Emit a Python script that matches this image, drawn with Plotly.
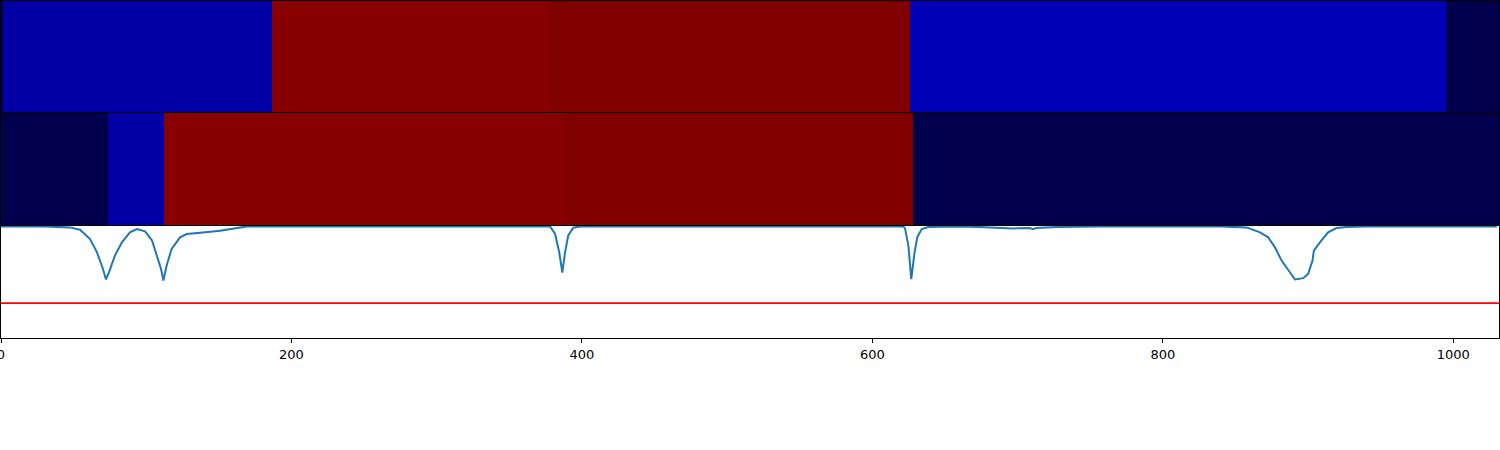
import plotly.graph_objects as go
from plotly.subplots import make_subplots

# ---- data ----
# top strip: segment edges and values
row1_edges = [0, 1.6, 186.3, 376.8, 625.6, 995.0, 1031.5]
row1_values = [-1.0, -0.75, 0.97, 1.0, -0.70, -1.0]

# middle strip
row2_edges = [0, 73.5, 112.2, 387.7, 628.0, 1031.5]
row2_values = [-1.0, -0.75, 0.97, 1.0, -1.0]

# bottom: signal trace
signal_x = [0, 30, 47.5, 54.4, 61.3, 66.1, 70.2, 72.3, 74.4, 78.5,
            83.3, 88.8, 93.6, 99.2, 104.0, 107.4, 110.2, 111.8, 114.1, 117.5,
            123.3, 127.9, 134.8, 139.1, 150.8, 164.6, 169.4, 250,
            378.0, 381.5, 384.4, 386.5, 388.4, 390.6, 394.1, 398.7, 500,
            621.3, 622.5, 624.8, 626.8, 628.9, 630.9, 634.0, 638.5,
            660.3, 677.5, 696.8, 708.5, 710.6, 712.7, 727.1, 756.7,
            839.4, 857.7, 866.9, 872.6, 877.2, 881.8, 886.4, 891.0, 896.7, 900.1,
            903.1, 904.0, 908.2, 913.8, 919.6, 926.5, 940.4, 1030]
signal_y = [1.0, 1.0, 0.987, 0.957, 0.835, 0.662, 0.445, 0.308, 0.403, 0.623,
            0.792, 0.922, 0.965, 0.935, 0.818, 0.623, 0.445, 0.295, 0.494, 0.705,
            0.857, 0.9, 0.909, 0.922, 0.944, 0.987, 1.0, 1.0,
            1.0, 0.904, 0.662, 0.399, 0.662, 0.883, 0.983, 1.0, 1.0,
            1.0, 0.974, 0.753, 0.312, 0.636, 0.857, 0.965, 0.991,
            1.0, 0.99, 0.974, 0.978, 0.965, 0.978, 0.991, 0.997,
            1.0, 0.987, 0.922, 0.857, 0.727, 0.554, 0.424, 0.308, 0.325, 0.381,
            0.554, 0.684, 0.792, 0.922, 0.978, 0.991, 1.0, 1.0]

threshold = 0.0
x_max = 1031.5
tick_vals = [0, 200, 400, 600, 800, 1000]
tick_text = ["0", "200", "400", "600", "800", "1000"]

seismic = [[0.0, "rgb(0,0,76)"], [0.25, "rgb(0,0,255)"], [0.5, "rgb(255,255,255)"],
           [0.75, "rgb(255,0,0)"], [1.0, "rgb(128,0,0)"]]

fig = make_subplots(rows=3, cols=1, shared_xaxes=False, vertical_spacing=0.003)

fig.add_trace(go.Heatmap(x=row1_edges, y=[0, 1], z=[row1_values], colorscale=seismic,
                         zmin=-1, zmax=1, showscale=False, hoverinfo="skip"), row=1, col=1)
fig.add_trace(go.Heatmap(x=row2_edges, y=[0, 1], z=[row2_values], colorscale=seismic,
                         zmin=-1, zmax=1, showscale=False, hoverinfo="skip"), row=2, col=1)
fig.add_trace(go.Scatter(x=signal_x, y=signal_y, mode="lines",
                         line=dict(color="#1f77b4", width=2), showlegend=False), row=3, col=1)
fig.add_trace(go.Scatter(x=[0, x_max], y=[threshold, threshold], mode="lines",
                         line=dict(color="red", width=1.8), showlegend=False), row=3, col=1)

axis_common = dict(range=[0, x_max], showgrid=False, zeroline=False, showline=True,
                   linecolor="black", linewidth=1, mirror=True, automargin=False)

fig.update_layout(
    width=1500, height=450,
    margin=dict(l=1, r=1, t=1, b=112, autoexpand=False),
    paper_bgcolor="white", plot_bgcolor="white",
    font=dict(family="DejaVu Sans", size=13, color="black"),
    showlegend=False,
    xaxis=dict(axis_common, showticklabels=False, ticks=""),
    xaxis2=dict(axis_common, showticklabels=False, ticks=""),
    xaxis3=dict(axis_common, tickvals=tick_vals, ticktext=tick_text, ticks="outside",
                ticklen=4, tickwidth=1, tickcolor="black", ticklabeloverflow="allow",
                tickfont=dict(family="DejaVu Sans", size=13, color="black")),
    yaxis=dict(domain=[0.6706, 1.0], range=[0, 1], showticklabels=False, ticks="", automargin=False,
               showgrid=False, zeroline=False, showline=True, linecolor="black", mirror=True),
    yaxis2=dict(domain=[0.3353, 0.6677], range=[0, 1], showticklabels=False, ticks="", automargin=False,
                showgrid=False, zeroline=False, showline=True, linecolor="black", mirror=True),
    yaxis3=dict(domain=[0.0, 0.3323], range=[-0.455, 1.005], showticklabels=False, ticks="", automargin=False,
                showgrid=False, zeroline=False, showline=True, linecolor="black", mirror=True),
)

fig.write_html("out.html", config={"displayModeBar": False},
               post_script="document.body.style.margin='0';")
